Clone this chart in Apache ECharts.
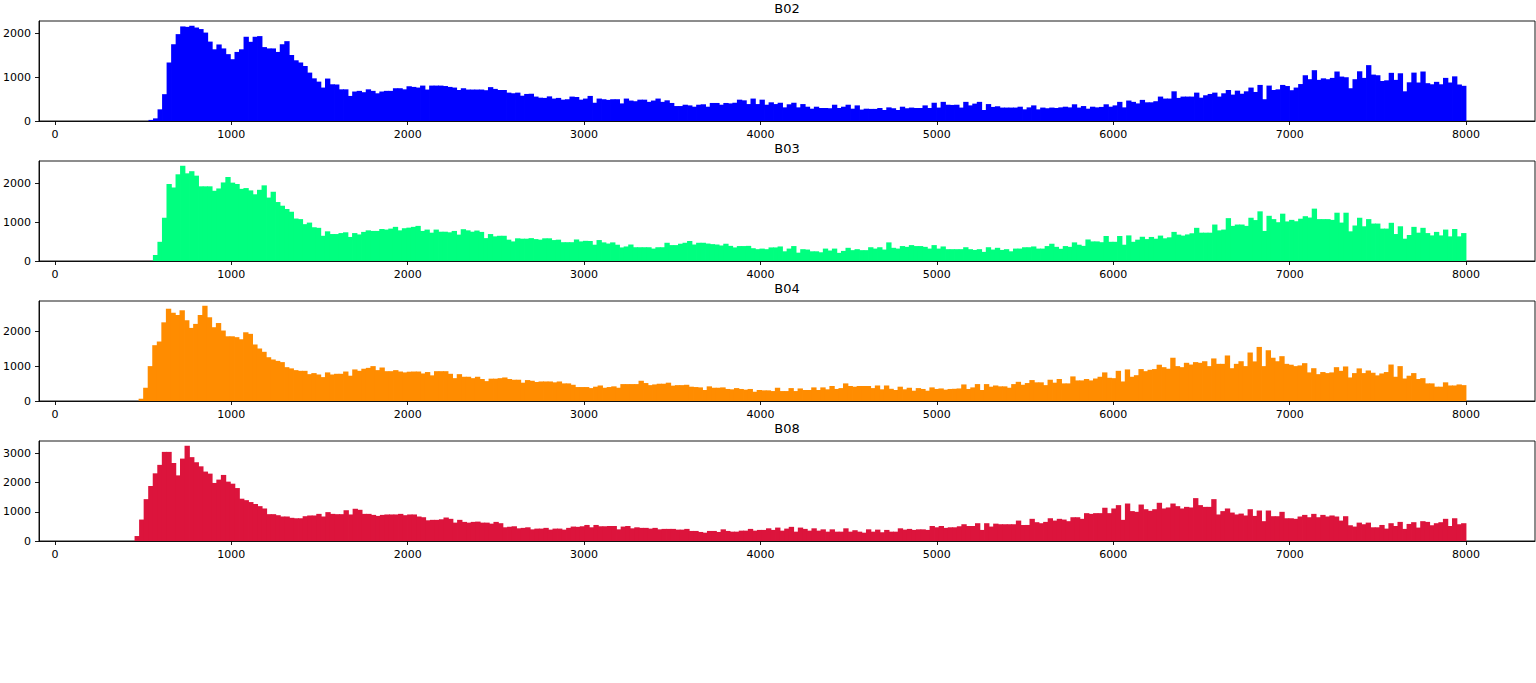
<!DOCTYPE html>
<html>
<head>
<meta charset="utf-8">
<script src="https://cdn.jsdelivr.net/npm/echarts@6/dist/echarts.min.js"></script>
<style>
html,body{margin:0;padding:0;background:#fff;}
#chart{width:1536px;height:683px;}
</style>
</head>
<body>
<div id="chart"></div>
<script>
// ---- data ----
const bandNames = ['B02', 'B03', 'B04', 'B08'];
const bandColors = ['#0000ff', '#00ff7f', '#ff8c00', '#dc143c'];
const xTicks = [0, 1000, 2000, 3000, 4000, 5000, 6000, 7000, 8000];
const yTicksB02 = [0, 1000, 2000];
const yTicksB03 = [0, 1000, 2000];
const yTicksB04 = [0, 1000, 2000];
const yTicksB08 = [0, 1000, 2000, 3000];
const binEnd = 8000;
const b02Start = 533;
const b03Start = 558;
const b04Start = 477;
const b08Start = 454;

const b02Counts = [
25,60,265,610,1330,1745,1975,2150,2140,2165,
2125,2090,2010,1805,1630,1740,1650,1520,1405,1570,
1630,1915,1800,1915,1930,1680,1650,1650,1570,1745,
1815,1500,1380,1330,1250,1100,970,895,760,965,
835,830,720,720,570,670,685,655,720,685,
630,670,685,685,745,745,720,790,775,760,
805,715,805,805,805,795,775,760,705,745,
715,715,715,715,700,770,730,705,705,645,
630,645,575,615,620,555,530,525,560,510,
525,485,495,555,545,485,510,570,415,510,
495,480,495,495,400,510,465,450,485,485,
435,465,510,435,470,410,340,340,370,355,
325,370,380,325,410,410,370,410,400,415,
485,470,385,510,385,485,370,425,385,415,
310,380,415,310,385,325,
280,325,295,295,290,370,295,325,370,280,
355,260,280,275,275,295,250,310,290,250,
325,290,305,295,295,355,295,415,305,435,
370,365,370,305,435,355,395,435,250,385,
320,335,305,305,305,305,325,265,310,355,
265,305,290,305,295,310,325,310,380,305,
340,280,325,310,320,380,325,355,435,310,
465,435,400,480,425,425,450,555,510,510,
675,525,555,555,555,645,530,585,615,645,
555,630,705,600,690,620,675,760,660,820,
495,805,705,720,820,795,700,760,840,1040,
950,1155,935,970,950,980,1125,1010,995,745,
950,1130,980,1270,1055,1040,910,925,1095,935,
1085,675,880,1100,875,1125,860,835,890,835,
980,875,1015,830,800
];

const b03Counts = [
155,495,1115,1985,1895,2235,2455,2260,2315,2200,
1925,1925,1925,1810,1870,2025,2165,2020,1985,1860,
1880,1820,1720,1835,1950,1635,1785,1520,1425,1340,
1270,1095,1080,950,990,870,855,650,765,695,
695,720,740,620,720,685,750,790,775,775,
825,810,835,880,790,845,860,880,905,775,
810,730,810,755,755,740,775,680,820,790,
755,785,750,590,695,635,650,650,550,505,
585,575,575,590,565,550,585,585,540,550,
485,485,485,555,505,520,515,420,540,480,
450,480,420,350,375,425,355,355,355,355,
320,355,355,470,410,410,445,470,515,425,
470,470,450,435,425,400,445,390,350,385,
385,390,330,305,320,305,350,350,375,250,
320,385,215,305,295,
250,250,225,320,270,320,210,260,340,280,
305,280,280,355,320,355,295,480,340,320,
385,365,410,385,385,365,320,410,320,375,
305,305,305,305,355,305,285,305,235,355,
295,340,285,305,250,320,320,355,355,375,
320,320,385,445,365,315,385,365,480,420,
390,555,505,505,485,645,495,495,645,420,
660,495,550,625,565,620,575,655,585,610,
750,680,655,685,715,855,730,730,730,940,
790,810,1105,905,940,940,905,1115,1055,1280,
775,1165,1080,1000,1220,1020,1060,1025,1090,1155,
1120,1350,1080,1080,1080,1060,1245,990,1245,765,
915,1115,895,1080,965,965,835,835,985,695,
895,575,670,880,730,855,720,660,750,660,
810,635,825,635,720
];

const b04Counts = [
65,380,1000,1600,1705,2255,2645,2530,2465,2600,
2315,2095,2210,2465,2730,2400,2115,2235,2020,1855,
1855,1830,1770,1970,1925,1620,1505,1410,1255,1190,
1150,1115,970,935,885,865,865,770,800,760,
685,820,760,780,780,845,725,905,865,925,
950,1000,885,960,855,855,885,845,820,840,
845,845,790,830,735,855,855,855,780,655,
770,695,695,655,695,630,570,640,640,655,
675,630,610,610,525,600,580,545,560,560,
560,535,560,505,505,465,400,400,400,370,
410,445,380,400,420,380,485,485,485,485,
580,515,455,475,495,495,525,440,455,455,
465,410,400,390,315,420,380,380,390,345,
335,370,345,325,345,265,315,305,305,285,
380,285,285,370,285,360,315,
315,390,315,390,335,430,345,370,505,430,
410,430,430,430,370,445,335,445,350,315,
410,335,380,295,370,345,295,390,345,360,
325,345,350,360,475,345,390,485,315,485,
410,445,420,420,380,485,550,465,515,600,
535,535,455,610,525,630,505,505,705,590,
590,630,590,645,695,820,665,655,865,560,
905,695,740,915,855,895,915,1040,970,925,
1240,1000,970,1095,1045,1115,1095,1140,1000,1220,
1065,1065,1305,940,1065,1140,1000,1390,1135,1550,
1000,1455,1240,1140,1285,1065,1040,1000,1020,1085,
820,940,770,830,800,820,970,865,990,675,
800,935,800,875,810,735,790,830,1045,695,
1000,645,725,800,630,655,505,505,410,410,
535,445,445,475,455
];

const b08Counts = [
170,735,1435,1885,2320,2610,3055,3055,2675,2250,
2825,3265,2875,2700,2560,2380,2310,1990,2105,2265,
2035,1965,1815,1450,1400,1335,1265,1195,1115,920,
920,885,840,840,795,780,780,850,875,875,
930,840,990,930,920,920,1055,910,1105,1070,
930,930,895,860,895,910,910,910,930,885,
910,910,840,815,710,725,725,745,805,760,
630,725,655,630,655,665,630,630,595,655,
610,470,485,505,435,450,470,400,425,425,
450,390,425,425,390,450,495,485,505,550,
470,550,505,505,515,515,400,495,515,435,
470,450,450,425,450,400,415,415,415,390,
390,415,345,345,310,285,345,345,310,400,
345,320,320,355,355,415,355,380,380,435,
380,460,355,425,485,320,460,415,
355,435,355,400,320,400,320,320,435,320,
370,320,285,400,320,390,300,380,320,320,
435,390,415,380,400,400,380,515,470,515,
450,470,470,505,575,515,515,610,380,610,
495,595,575,575,575,575,700,550,550,760,
645,610,655,780,700,760,735,680,815,815,
760,955,930,955,955,1140,955,1115,1230,725,
1285,1025,1000,1250,1090,1035,1090,1310,1115,1150,
1285,1195,1115,1170,1150,1470,1230,1170,1170,1435,
910,1025,1115,975,910,940,875,1090,860,1045,
680,1045,850,850,1000,780,780,760,840,895,
815,930,815,895,840,875,840,700,850,540,
495,630,575,630,470,470,550,425,610,515,
655,415,585,645,460,680,655,540,610,645,
760,515,780,575,610
];

// ---- chart construction ----
const allCounts = [b02Counts, b03Counts, b04Counts, b08Counts];
const allStarts = [b02Start, b03Start, b04Start, b08Start];
const allYTicks = [yTicksB02, yTicksB03, yTicksB04, yTicksB08];

function binsFor(counts, start) {
  const w = (binEnd - start) / counts.length;
  return counts.map((c, i) => [start + i * w, start + (i + 1) * w, c]);
}

const FONT = 'DejaVu Sans';
const panelTop = [21, 161, 301, 441];
const panelH = 100;

const grids = [], xAxes = [], yAxes = [], series = [], titles = [];
for (let k = 0; k < 4; k++) {
  grids.push({
    left: 39, right: 1, top: panelTop[k], height: panelH,
    show: true, borderColor: '#000', borderWidth: 0.9, backgroundColor: 'transparent',
    containLabel: false
  });
  xAxes.push({
    type: 'value', gridIndex: k, min: -90, max: 8391,
    splitLine: { show: false },
    axisLine: { show: true, onZero: false, lineStyle: { color: '#000', width: 0.9 } },
    axisTick: { show: true, length: 4, lineStyle: { color: '#000', width: 0.9 }, customValues: xTicks },
    axisLabel: { customValues: xTicks, color: '#000', fontSize: 11, fontFamily: FONT, margin: 8,
                 formatter: v => String(v) }
  });
  const ymax = Math.max.apply(null, allCounts[k]) * 1.05;
  yAxes.push({
    type: 'value', gridIndex: k, min: 0, max: ymax,
    splitLine: { show: false },
    axisLine: { show: true, onZero: false, lineStyle: { color: '#000', width: 0.9 } },
    axisTick: { show: true, length: 4, lineStyle: { color: '#000', width: 0.9 }, customValues: allYTicks[k] },
    axisLabel: { customValues: allYTicks[k], color: '#000', fontSize: 11, fontFamily: FONT, margin: 8,
                 formatter: v => String(v) }
  });
  const color = bandColors[k];
  series.push({
    type: 'custom', xAxisIndex: k, yAxisIndex: k,
    data: binsFor(allCounts[k], allStarts[k]),
    encode: { x: [0, 1], y: 2 },
    silent: true, animation: false, clip: true, z: 1,
    renderItem: function (params, api) {
      const p0 = api.coord([api.value(0), api.value(2)]);
      const p1 = api.coord([api.value(1), 0]);
      return {
        type: 'rect',
        shape: { x: p0[0] - 0.4, y: p0[1], width: p1[0] - p0[0] + 0.8, height: p1[1] - p0[1] },
        style: { fill: color, stroke: null }
      };
    }
  });
  titles.push({
    text: bandNames[k], left: 787, top: panelTop[k] - 19, textAlign: 'center', padding: 0,
    textStyle: { color: '#000', fontSize: 13, fontWeight: 'normal', fontFamily: FONT }
  });
}

const chart = echarts.init(document.getElementById('chart'), null, { renderer: 'svg' });
chart.setOption({
  animation: false,
  backgroundColor: '#fff',
  title: titles,
  grid: grids,
  xAxis: xAxes,
  yAxis: yAxes,
  series: series
});
</script>
</body>
</html>
